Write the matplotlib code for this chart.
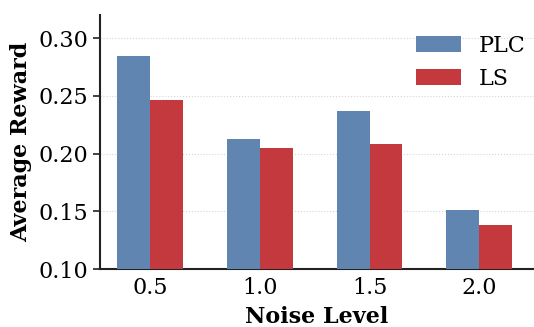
import numpy as np
import matplotlib
matplotlib.use("Agg")
import matplotlib.pyplot as plt

# values
noise_levels = ["0.5", "1.0", "1.5", "2.0"]
plc_reward = [0.2845, 0.2126, 0.2368, 0.1511]
ls_reward = [0.2463, 0.2048, 0.2082, 0.1381]

plt.rcParams['font.family'] = 'DejaVu Serif'

fig = plt.figure(figsize=(5.34, 3.27), dpi=100)
ax = fig.add_axes([0.187, 0.177, 0.813, 0.777])

x = np.arange(len(noise_levels))
width = 0.3
ax.bar(x - width / 2, plc_reward, width, color='#6085b0', label='PLC', zorder=3)
ax.bar(x + width / 2, ls_reward, width, color='#c4393d', label='LS', zorder=3)

ax.set_xticks(x)
ax.set_xticklabels(noise_levels)
ax.set_xlim(-0.46, 3.5)
ax.set_ylim(0.10, 0.32)
ax.set_yticks([0.10, 0.15, 0.20, 0.25, 0.30])
ax.yaxis.set_major_formatter(matplotlib.ticker.FormatStrFormatter('%.2f'))

ax.tick_params(axis='both', labelsize=16, width=1.2, length=5, colors='#222222')
ax.tick_params(axis='x', length=0, pad=6)
for lbl in ax.get_xticklabels() + ax.get_yticklabels():
    lbl.set_color('black')

ax.set_xlabel('Noise Level', fontsize=16, fontweight='bold', labelpad=5)
ax.set_ylabel('Average Reward', fontsize=16, fontweight='bold')

ax.grid(axis='y', linestyle=':', color='#d5d5d5', linewidth=0.8, zorder=0)
for side in ['top', 'right']:
    ax.spines[side].set_visible(False)
for side in ['left', 'bottom']:
    ax.spines[side].set_linewidth(1.5)
    ax.spines[side].set_color('#222222')

leg = ax.legend(loc='upper right', bbox_to_anchor=(1.0, 0.957), fontsize=16,
                frameon=False, handlelength=2.0, handleheight=0.7,
                borderaxespad=0.0)

fig.savefig('out.png', dpi=100)
